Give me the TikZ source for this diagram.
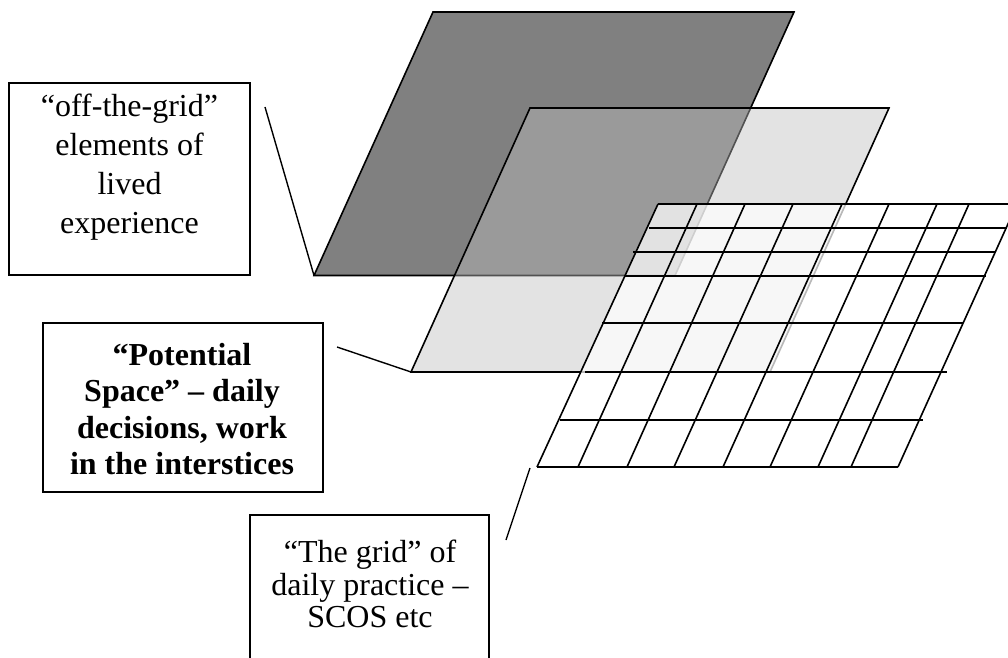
\documentclass[tikz,border=0pt]{standalone}
\usepackage{fontspec}
\setmainfont{Liberation Serif}
\definecolor{darkfill}{gray}{0.5}
\definecolor{lightfill}{gray}{0.745}
\tikzset{
  edge/.style={draw=black, line width=0.8pt, line join=miter},
  gridline/.style={draw=black, line width=0.8pt},
  frame/.style={draw=black, line width=0.75pt, inner sep=0pt, fill=white},
  txt/.style={inner sep=0pt, anchor=base},
  conn/.style={draw=black, line width=0.7pt}
}
\begin{document}
\begin{tikzpicture}[x=0.5pt, y=-0.5pt]
\useasboundingbox (0,0) rectangle (1008,658);
\clip (0,0) rectangle (1008,658);
% plane corners
\coordinate (dTL) at (433,12);
\coordinate (dTR) at (794,12);
\coordinate (dBR) at (675,275.5);
\coordinate (dBL) at (314,275.5);
\coordinate (lTL) at (530,108);
\coordinate (lTR) at (889,108);
\coordinate (lBR) at (770,372);
\coordinate (lBL) at (411,372);
\coordinate (gTL) at (658,204);
\coordinate (gTR) at (1017,204);
\coordinate (gBR) at (898,467);
\coordinate (gBL) at (537,467);
% dark plane
\path[edge, fill=darkfill] (dTL) -- (dTR) -- (dBR) -- (dBL) -- cycle;
% light plane (semi-transparent)
\path[edge, fill=lightfill, fill opacity=0.433] (lTL) -- (lTR) -- (lBR) -- (lBL) -- cycle;
% grid plane (semi-transparent white)
\path[fill=white, fill opacity=0.72] (gTL) -- (gTR) -- (gBR) -- (gBL) -- cycle;
% horizontal grid lines
\foreach \yy/\xl/\xr in {204/658/1017, 228/649/1007, 252/633/996, 276/625/986, 323/602/963, 372/585/947, 420/560/923, 467/537/898}
  \draw[gridline] (\xl,\yy) -- (\xr,\yy);
% slanted grid lines
\foreach \xt/\xb in {658/537, 697/578, 745/627, 793/674, 842/723, 889/770, 937/818, 969/851, 1017/898}
  \draw[gridline] (\xt,204) -- (\xb,467);
% boxes
\node[frame, minimum width=120.5pt, minimum height=96pt] (b1) at (129.5,179) {};
\node[txt] (t1) at (129.5,116.7) {\fontsize{16}{19.5}\selectfont\begin{tabular}[t]{@{}c@{}}“off-the-grid”\\elements of\\lived\\experience\end{tabular}};
\node[frame, minimum width=140pt, minimum height=84.5pt] (b2) at (183,407.5) {};
\node[txt] (t2) at (182,365) {\fontsize{16}{18.3}\selectfont\bfseries\begin{tabular}[t]{@{}c@{}}“Potential\\Space” – daily\\decisions, work\\in the interstices\end{tabular}};
\node[frame, minimum width=119.5pt, minimum height=92.5pt] (b3) at (369.5,607.5) {};
\node[txt] (t3) at (370,562.7) {\fontsize{16}{16.2}\selectfont\begin{tabular}[t]{@{}c@{}}“The grid” of\\daily practice –\\SCOS etc\end{tabular}};
% connectors
\coordinate (c1) at (265,107);
\coordinate (c2) at (337,347);
\coordinate (c3a) at (506,540);
\coordinate (c3b) at (530,468);
\draw[conn] (c1) -- (dBL);
\draw[conn] (c2) -- (lBL);
\draw[conn] (c3a) -- (c3b);
\end{tikzpicture}
\end{document}
